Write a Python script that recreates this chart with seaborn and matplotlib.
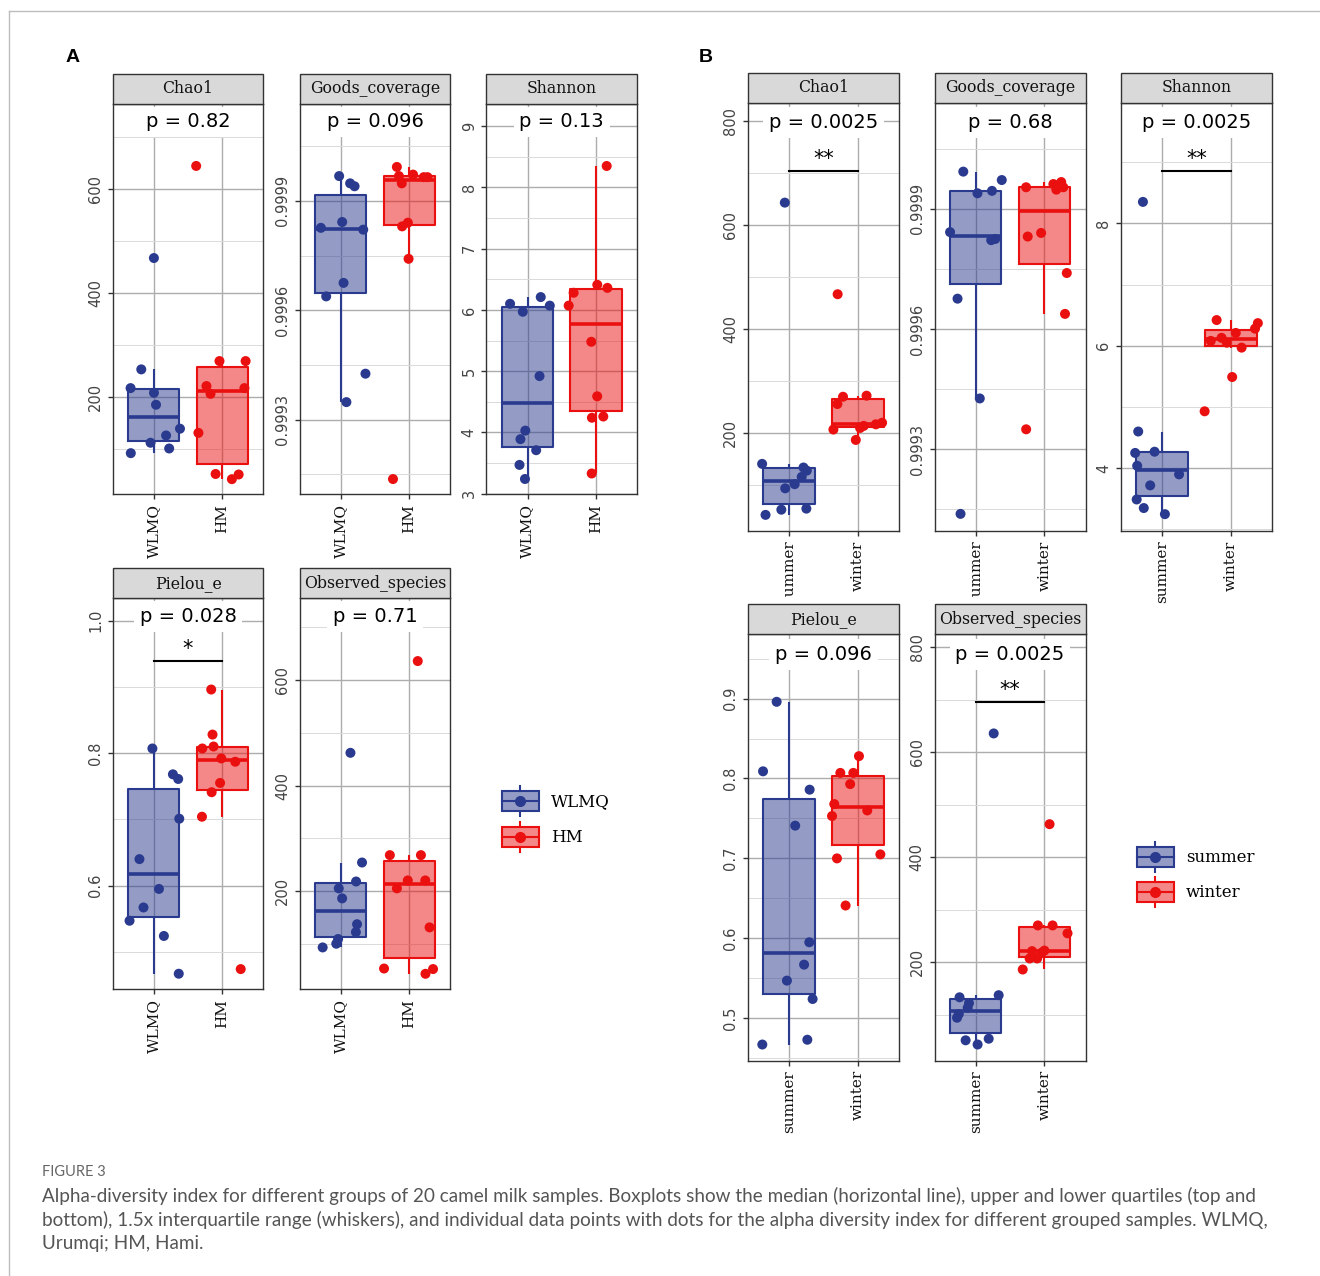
import numpy as np
import pandas as pd
import matplotlib
matplotlib.use("Agg")
import matplotlib.pyplot as plt
import seaborn as sns
from matplotlib.patches import Rectangle, Patch
from matplotlib.lines import Line2D
from matplotlib.legend_handler import HandlerBase
from matplotlib.ticker import FixedLocator, StrMethodFormatter
from matplotlib.transforms import Bbox, TransformedBbox

# ---------------- data ----------------
metrics = ["Chao1", "Goods_coverage", "Shannon", "Pielou_e", "Observed_species"]
groups_a = ["WLMQ", "HM"]
groups_b = ["summer", "winter"]

# panel A: WLMQ vs HM
a_chao1_wlmq = [92, 101, 112, 126, 139, 185, 208, 217, 253, 467]
a_chao1_hm = [42, 51, 52, 131, 206, 217, 221, 269, 269, 644]
a_goods_wlmq = [0.999348, 0.999426, 0.999638, 0.999675, 0.999821, 0.999826, 0.999842, 0.999940, 0.999948, 0.999968]
a_goods_hm = [0.999137, 0.999741, 0.999830, 0.999840, 0.999948, 0.999965, 0.999965, 0.999968, 0.999972, 0.999993]
a_shannon_wlmq = [3.24, 3.47, 3.71, 3.89, 4.03, 4.92, 5.97, 6.07, 6.10, 6.21]
a_shannon_hm = [3.33, 4.24, 4.26, 4.59, 5.48, 6.07, 6.28, 6.36, 6.41, 8.35]
a_pielou_wlmq = [0.467, 0.524, 0.547, 0.567, 0.595, 0.640, 0.701, 0.761, 0.768, 0.807]
a_pielou_hm = [0.474, 0.704, 0.741, 0.755, 0.787, 0.792, 0.807, 0.810, 0.828, 0.896]
a_obs_wlmq = [93, 100, 109, 122, 137, 186, 205, 218, 254, 462]
a_obs_hm = [43, 52, 53, 131, 205, 220, 220, 268, 268, 636]
p_a = ["0.82", "0.096", "0.13", "0.028", "0.71"]
stars_a = ["", "", "", "*", ""]

# panel B: summer vs winter
b_chao1_summer = [43, 53, 55, 94, 102, 116, 128, 134, 141, 643]
b_chao1_winter = [187, 207, 210, 214, 217, 220, 256, 270, 272, 467]
b_goods_summer = [0.999139, 0.999427, 0.999676, 0.999822, 0.999825, 0.999842, 0.999939, 0.999945, 0.999972, 0.999993]
b_goods_winter = [0.999350, 0.999638, 0.999740, 0.999831, 0.999840, 0.999948, 0.999954, 0.999954, 0.999962, 0.999967]
b_shannon_summer = [3.25, 3.35, 3.49, 3.72, 3.90, 4.04, 4.25, 4.27, 4.60, 8.35]
b_shannon_winter = [4.93, 5.49, 5.97, 6.05, 6.08, 6.13, 6.21, 6.28, 6.37, 6.42]
b_pielou_summer = [0.467, 0.473, 0.524, 0.547, 0.567, 0.595, 0.741, 0.786, 0.809, 0.896]
b_pielou_winter = [0.641, 0.700, 0.705, 0.753, 0.760, 0.768, 0.793, 0.807, 0.807, 0.828]
b_obs_summer = [43, 51, 54, 94, 101, 113, 122, 133, 137, 636]
b_obs_winter = [186, 207, 207, 218, 221, 222, 255, 270, 270, 463]
p_b = ["0.0025", "0.68", "0.0025", "0.096", "0.0025"]
stars_b = ["**", "", "**", "", "**"]

caption_title = "FIGURE 3"
caption_lines = [
    "Alpha-diversity index for different groups of 20 camel milk samples. Boxplots show the median (horizontal line), upper and lower quartiles (top and",
    "bottom), 1.5x interquartile range (whiskers), and individual data points with dots for the alpha diversity index for different grouped samples. WLMQ,",
    "Urumqi; HM, Hami.",
]

# ---------------- styling / axis config ----------------
BLUE = "#2A3B8F"
RED = "#EB1010"
SERIF = "DejaVu Serif"

axis_a = {
    "Chao1": dict(ylim=(13.5, 764), major=[200, 400, 600], minor=[100, 300, 500, 700], fmt="{x:.0f}"),
    "Goods_coverage": dict(ylim=(0.999096, 1.000167), major=[0.9993, 0.9996, 0.9999],
                           minor=[0.99915, 0.99945, 0.99975, 1.00005], fmt="{x:.4f}"),
    "Shannon": dict(ylim=(2.995, 9.37), major=[3, 4, 5, 6, 7, 8, 9],
                    minor=[3.5, 4.5, 5.5, 6.5, 7.5, 8.5], fmt="{x:.0f}"),
    "Pielou_e": dict(ylim=(0.4435, 1.0337), major=[0.6, 0.8, 1.0], minor=[0.5, 0.7, 0.9], fmt="{x:.1f}"),
    "Observed_species": dict(ylim=(13.6, 755), major=[200, 400, 600], minor=[100, 300, 500, 700], fmt="{x:.0f}"),
}
axis_b = {
    "Chao1": dict(ylim=(12.6, 835), major=[200, 400, 600, 800], minor=[100, 300, 500, 700], fmt="{x:.0f}"),
    "Goods_coverage": dict(ylim=(0.999097, 1.000165), major=[0.9993, 0.9996, 0.9999],
                           minor=[0.99915, 0.99945, 0.99975, 1.00005], fmt="{x:.4f}"),
    "Shannon": dict(ylim=(2.98, 9.97), major=[4, 6, 8], minor=[3, 5, 7, 9], fmt="{x:.0f}"),
    "Pielou_e": dict(ylim=(0.447, 0.9805), major=[0.5, 0.6, 0.7, 0.8, 0.9],
                     minor=[0.45, 0.55, 0.65, 0.75, 0.85, 0.95], fmt="{x:.1f}"),
    "Observed_species": dict(ylim=(12.5, 825), major=[200, 400, 600, 800], minor=[100, 300, 500, 700], fmt="{x:.0f}"),
}


def long_df(groups, pairs):
    rows = []
    for metric, (g1, g2) in zip(metrics, pairs):
        rows += [(metric, groups[0], v) for v in g1]
        rows += [(metric, groups[1], v) for v in g2]
    return pd.DataFrame(rows, columns=["metric", "group", "value"])


df_a = long_df(groups_a, [(a_chao1_wlmq, a_chao1_hm), (a_goods_wlmq, a_goods_hm),
                          (a_shannon_wlmq, a_shannon_hm), (a_pielou_wlmq, a_pielou_hm),
                          (a_obs_wlmq, a_obs_hm)])
df_b = long_df(groups_b, [(b_chao1_summer, b_chao1_winter), (b_goods_summer, b_goods_winter),
                          (b_shannon_summer, b_shannon_winter), (b_pielou_summer, b_pielou_winter),
                          (b_obs_summer, b_obs_winter)])

W, H = 1320, 1276
fig = plt.figure(figsize=(W / 100, H / 100), dpi=100)
np.random.seed(7)


def px_rect(x0, x1, y0, y1):
    return [x0 / W, 1 - y1 / H, (x1 - x0) / W, (y1 - y0) / H]


def draw_facet(ax, df, groups, name, cfg, p_txt, star, height_px, clip_y=None):
    pal = dict(zip(groups, [BLUE, RED]))
    sub = df[df["metric"] == name]
    common = dict(data=sub, x="group", y="value", hue="group", order=groups,
                  hue_order=groups, palette=pal, legend=False, ax=ax)
    # filled boxes (semi transparent)
    sns.boxplot(**common, saturation=1, width=0.75, showfliers=False, linewidth=0)
    for p in ax.patches:
        p.set_alpha(0.5)
    # outlines, whiskers and medians in the group colour
    sns.boxplot(**common, fill=False, width=0.75, showfliers=False, linewidth=1.5,
                medianprops={"linewidth": 2.6}, capprops={"linewidth": 0})
    sns.stripplot(**common, jitter=0.4, size=7.2, linewidth=0, zorder=3)

    ax.set_xlim(-0.6, 1.6)
    ax.set_ylim(*cfg["ylim"])
    ax.set_xlabel("")
    ax.set_ylabel("")
    ax.yaxis.set_major_locator(FixedLocator(cfg["major"]))
    ax.yaxis.set_minor_locator(FixedLocator(cfg["minor"]))
    ax.yaxis.set_major_formatter(StrMethodFormatter(cfg["fmt"]))
    ax.set_axisbelow(True)
    ax.grid(True, which="major", axis="both", color="#ADADAD", lw=1.0)
    ax.grid(True, which="minor", axis="y", color="#DADADA", lw=0.7)
    ax.tick_params(axis="y", which="minor", length=0)
    ax.tick_params(axis="both", which="major", length=3.5, width=1.0, color="#333333", pad=3.5)
    ax.tick_params(axis="y", labelsize=10.5, labelcolor="#444444", labelrotation=90)
    ax.tick_params(axis="x", labelsize=11, labelcolor="#111111", labelrotation=90)
    for lab in ax.get_yticklabels():
        lab.set_va("center")
    for lab in ax.get_xticklabels():
        lab.set_family(SERIF)
        if clip_y is not None:
            lab.set_clip_box(TransformedBbox(Bbox([[0, 1 - clip_y / H], [1, 1]]), fig.transFigure))
            lab.set_clip_on(True)
    for s in ax.spines.values():
        s.set_color("#333333")
        s.set_linewidth(1.0)

    # facet strip
    h = 30 / height_px
    ax.add_patch(Rectangle((0, 1), 1, h, transform=ax.transAxes, clip_on=False,
                           fc="#D9D9D9", ec="#333333", lw=1.0, zorder=5))
    ax.text(0.5, 1 + h / 2, name, transform=ax.transAxes, ha="center", va="center",
            fontsize=11.3, family=SERIF, color="#111111", zorder=6)

    # p value label and significance bracket
    ax.text(0.5, 0.953, f"p = {p_txt}", transform=ax.transAxes, ha="center", va="center",
            fontsize=14, color="black", zorder=2.5,
            bbox=dict(boxstyle="square,pad=0.3", fc="white", ec="none"))
    if star:
        lo, hi = cfg["ylim"]
        yb = lo + 0.84 * (hi - lo)
        ax.plot([0, 1], [yb, yb], color="black", lw=1.5, zorder=3)
        ax.text(0.5, yb + 0.006 * (hi - lo), star, ha="center", va="bottom", fontsize=15, color="black")


cols_a = [(113, 263), (300, 450), (486.5, 637)]
rows_a = [(103.5, 494), (598.3, 989.3)]
cols_b = [(748, 899), (934.5, 1085.5), (1121, 1272)]
rows_b = [(102.7, 530.7), (634.3, 1060.5)]

for i, name in enumerate(metrics):
    r, c = divmod(i, 3)
    y0, y1 = rows_a[r]
    ax = fig.add_axes(px_rect(cols_a[c][0], cols_a[c][1], y0, y1))
    draw_facet(ax, df_a, groups_a, name, axis_a[name], p_a[i], stars_a[i], y1 - y0)
for i, name in enumerate(metrics):
    r, c = divmod(i, 3)
    y0, y1 = rows_b[r]
    ax = fig.add_axes(px_rect(cols_b[c][0], cols_b[c][1], y0, y1))
    clip = 597 if (r == 0 and c < 2) else None
    draw_facet(ax, df_b, groups_b, name, axis_b[name], p_b[i], stars_b[i], y1 - y0, clip_y=clip)


# legend keys drawn like ggplot boxplot keys
class BoxKey(HandlerBase):
    def create_artists(self, legend, orig_handle, xdescent, ydescent, width, height, fontsize, trans):
        edge = orig_handle.get_edgecolor()
        face = orig_handle.get_facecolor()
        x0, y0 = -xdescent, -ydescent
        bh = height * 0.64
        by = y0 + (height - bh) / 2
        cx, cy = x0 + width / 2, y0 + height / 2
        arts = [
            Rectangle((x0, by), width, bh, fc=face, ec=edge, lw=1.5, transform=trans),
            Line2D([cx, cx], [by + bh, y0 + height], color=edge, lw=1.5, transform=trans),
            Line2D([cx, cx], [y0, by], color=edge, lw=1.5, transform=trans),
            Line2D([x0, x0 + width], [cy, cy], color=edge, lw=1.5, transform=trans),
            Line2D([cx], [cy], marker="o", ms=7, color=edge, lw=0, transform=trans),
        ]
        return arts


def add_legend(labels, x_left, y_center, spacing):
    handles = [Patch(fc=matplotlib.colors.to_rgba(BLUE, 0.5), ec=BLUE),
               Patch(fc=matplotlib.colors.to_rgba(RED, 0.5), ec=RED)]
    fig.legend(handles, labels, handler_map={Patch: BoxKey()}, loc="center left",
               bbox_to_anchor=(x_left / W, 1 - y_center / H), frameon=False,
               prop={"family": SERIF, "size": 12}, handlelength=2.2, handleheight=2.4,
               labelspacing=spacing, handletextpad=0.75, borderpad=0, borderaxespad=0)


add_legend(groups_a, 502, 819, 0.36)
add_legend(groups_b, 1137, 874.5, 0.30)

# panel letters
fig.text(73 / W, 1 - 58 / H, "A", fontsize=14, weight="bold", family="Liberation Sans", ha="center", va="center")
fig.text(706 / W, 1 - 58 / H, "B", fontsize=14, weight="bold", family="Liberation Sans", ha="center", va="center")

# outer frame (top and left edges visible)
fig.add_artist(Line2D([9 / W, 1], [1 - 11 / H, 1 - 11 / H], transform=fig.transFigure, color="#BDBDBD", lw=1.0))
fig.add_artist(Line2D([9 / W, 9 / W], [0, 1 - 11 / H], transform=fig.transFigure, color="#BDBDBD", lw=1.0))

# caption
fig.text(42 / W, 1 - 1172 / H, caption_title, fontsize=10.5, family="Lato", color="#666666", va="center")
for k, line in enumerate(caption_lines):
    fig.text(42 / W, 1 - (1196 + 23.5 * k) / H, line, fontsize=13.6, family="Lato",
             color="#555555", va="center")

fig.savefig("out.png", dpi=100)
